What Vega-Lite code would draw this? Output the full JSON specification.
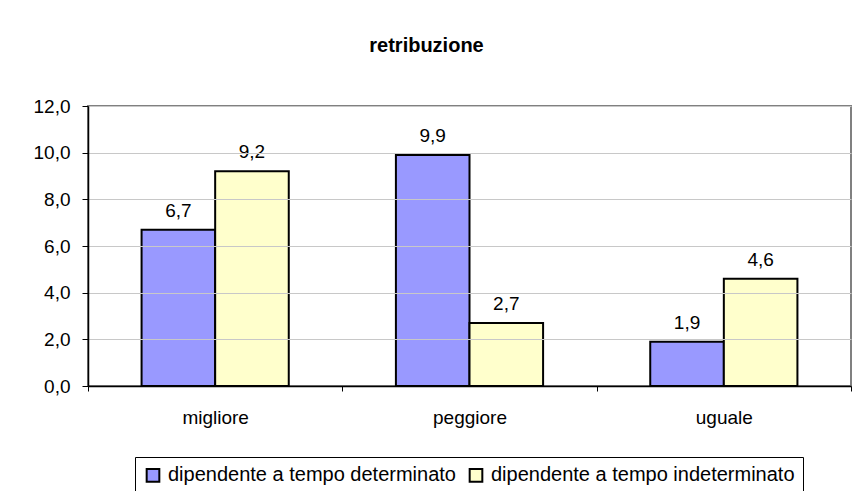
{
  "$schema": "https://vega.github.io/schema/vega-lite/v6.json",
  "width": 763,
  "height": 280,
  "autosize": {"type": "none"},
  "padding": {"left": 88, "top": 106, "right": 8, "bottom": 105},
  "background": "white",
  "title": {"text": "retribuzione", "font": "Liberation Sans", "fontSize": 20, "fontWeight": "bold", "color": "black", "anchor": "middle", "offset": 41, "dx": -43},
  "data": {"values": [
    {"cat": "migliore", "serie": "dipendente a tempo determinato", "v": 6.7, "lab": "6,7"},
    {"cat": "migliore", "serie": "dipendente a tempo indeterminato", "v": 9.2, "lab": "9,2"},
    {"cat": "peggiore", "serie": "dipendente a tempo determinato", "v": 9.9, "lab": "9,9"},
    {"cat": "peggiore", "serie": "dipendente a tempo indeterminato", "v": 2.7, "lab": "2,7"},
    {"cat": "uguale", "serie": "dipendente a tempo determinato", "v": 1.9, "lab": "1,9"},
    {"cat": "uguale", "serie": "dipendente a tempo indeterminato", "v": 4.6, "lab": "4,6"}
  ]},
  "encoding": {
    "x": {"field": "cat", "type": "nominal", "sort": ["migliore", "peggiore", "uguale"],
      "scale": {"paddingInner": 0, "paddingOuter": 0},
      "axis": {"title": null, "labelAngle": 0, "tickBand": "extent", "tickSize": 5, "tickColor": "black", "tickWidth": 1, "domainColor": "black", "domainWidth": 1.5, "labelFont": "Liberation Sans", "labelFontSize": 19, "labelColor": "black", "labelPadding": 17, "zindex": 1}},
    "xOffset": {"field": "serie", "type": "nominal", "sort": ["dipendente a tempo determinato", "dipendente a tempo indeterminato"],
      "scale": {"paddingInner": 0, "paddingOuter": 0.728}},
    "y": {"field": "v", "type": "quantitative",
      "scale": {"domain": [0, 12], "nice": false},
      "axis": {"title": null, "values": [0, 2, 4, 6, 8, 10, 12], "labelExpr": "replace(format(datum.value, '.1f'), '.', ',')", "tickSize": 6, "tickColor": "black", "domainColor": "black", "domainWidth": 1.5, "gridColor": "#C8C8C8", "gridWidth": 1, "labelFont": "Liberation Sans", "labelFontSize": 19, "labelColor": "black", "labelPadding": 12, "zindex": 1}}
  },
  "layer": [
    {
      "mark": {"type": "bar", "stroke": "black", "strokeWidth": 2, "opacity": 1},
      "encoding": {
        "color": {"field": "serie", "type": "nominal",
          "scale": {"domain": ["dipendente a tempo determinato", "dipendente a tempo indeterminato"], "range": ["#9999FF", "#FFFFCC"]},
          "legend": {"title": null, "orient": "none", "legendX": 47, "legendY": 351, "direction": "horizontal",
            "symbolType": "square", "symbolSize": 160, "symbolStrokeColor": "black", "symbolStrokeWidth": 2,
            "labelFont": "Liberation Sans", "labelFontSize": 20, "labelColor": "black", "labelOffset": 5, "columnPadding": 9, "labelLimit": 400,
            "padding": 8, "strokeColor": "black", "fillColor": "white"}}
      }
    },
    {
      "mark": {"type": "text", "baseline": "alphabetic", "dy": -13, "font": "Liberation Sans", "fontSize": 19, "color": "black"},
      "encoding": {
        "text": {"field": "lab", "type": "nominal"}
      }
    }
  ],
  "config": {"view": {"stroke": "#808080", "strokeWidth": 2}}
}
